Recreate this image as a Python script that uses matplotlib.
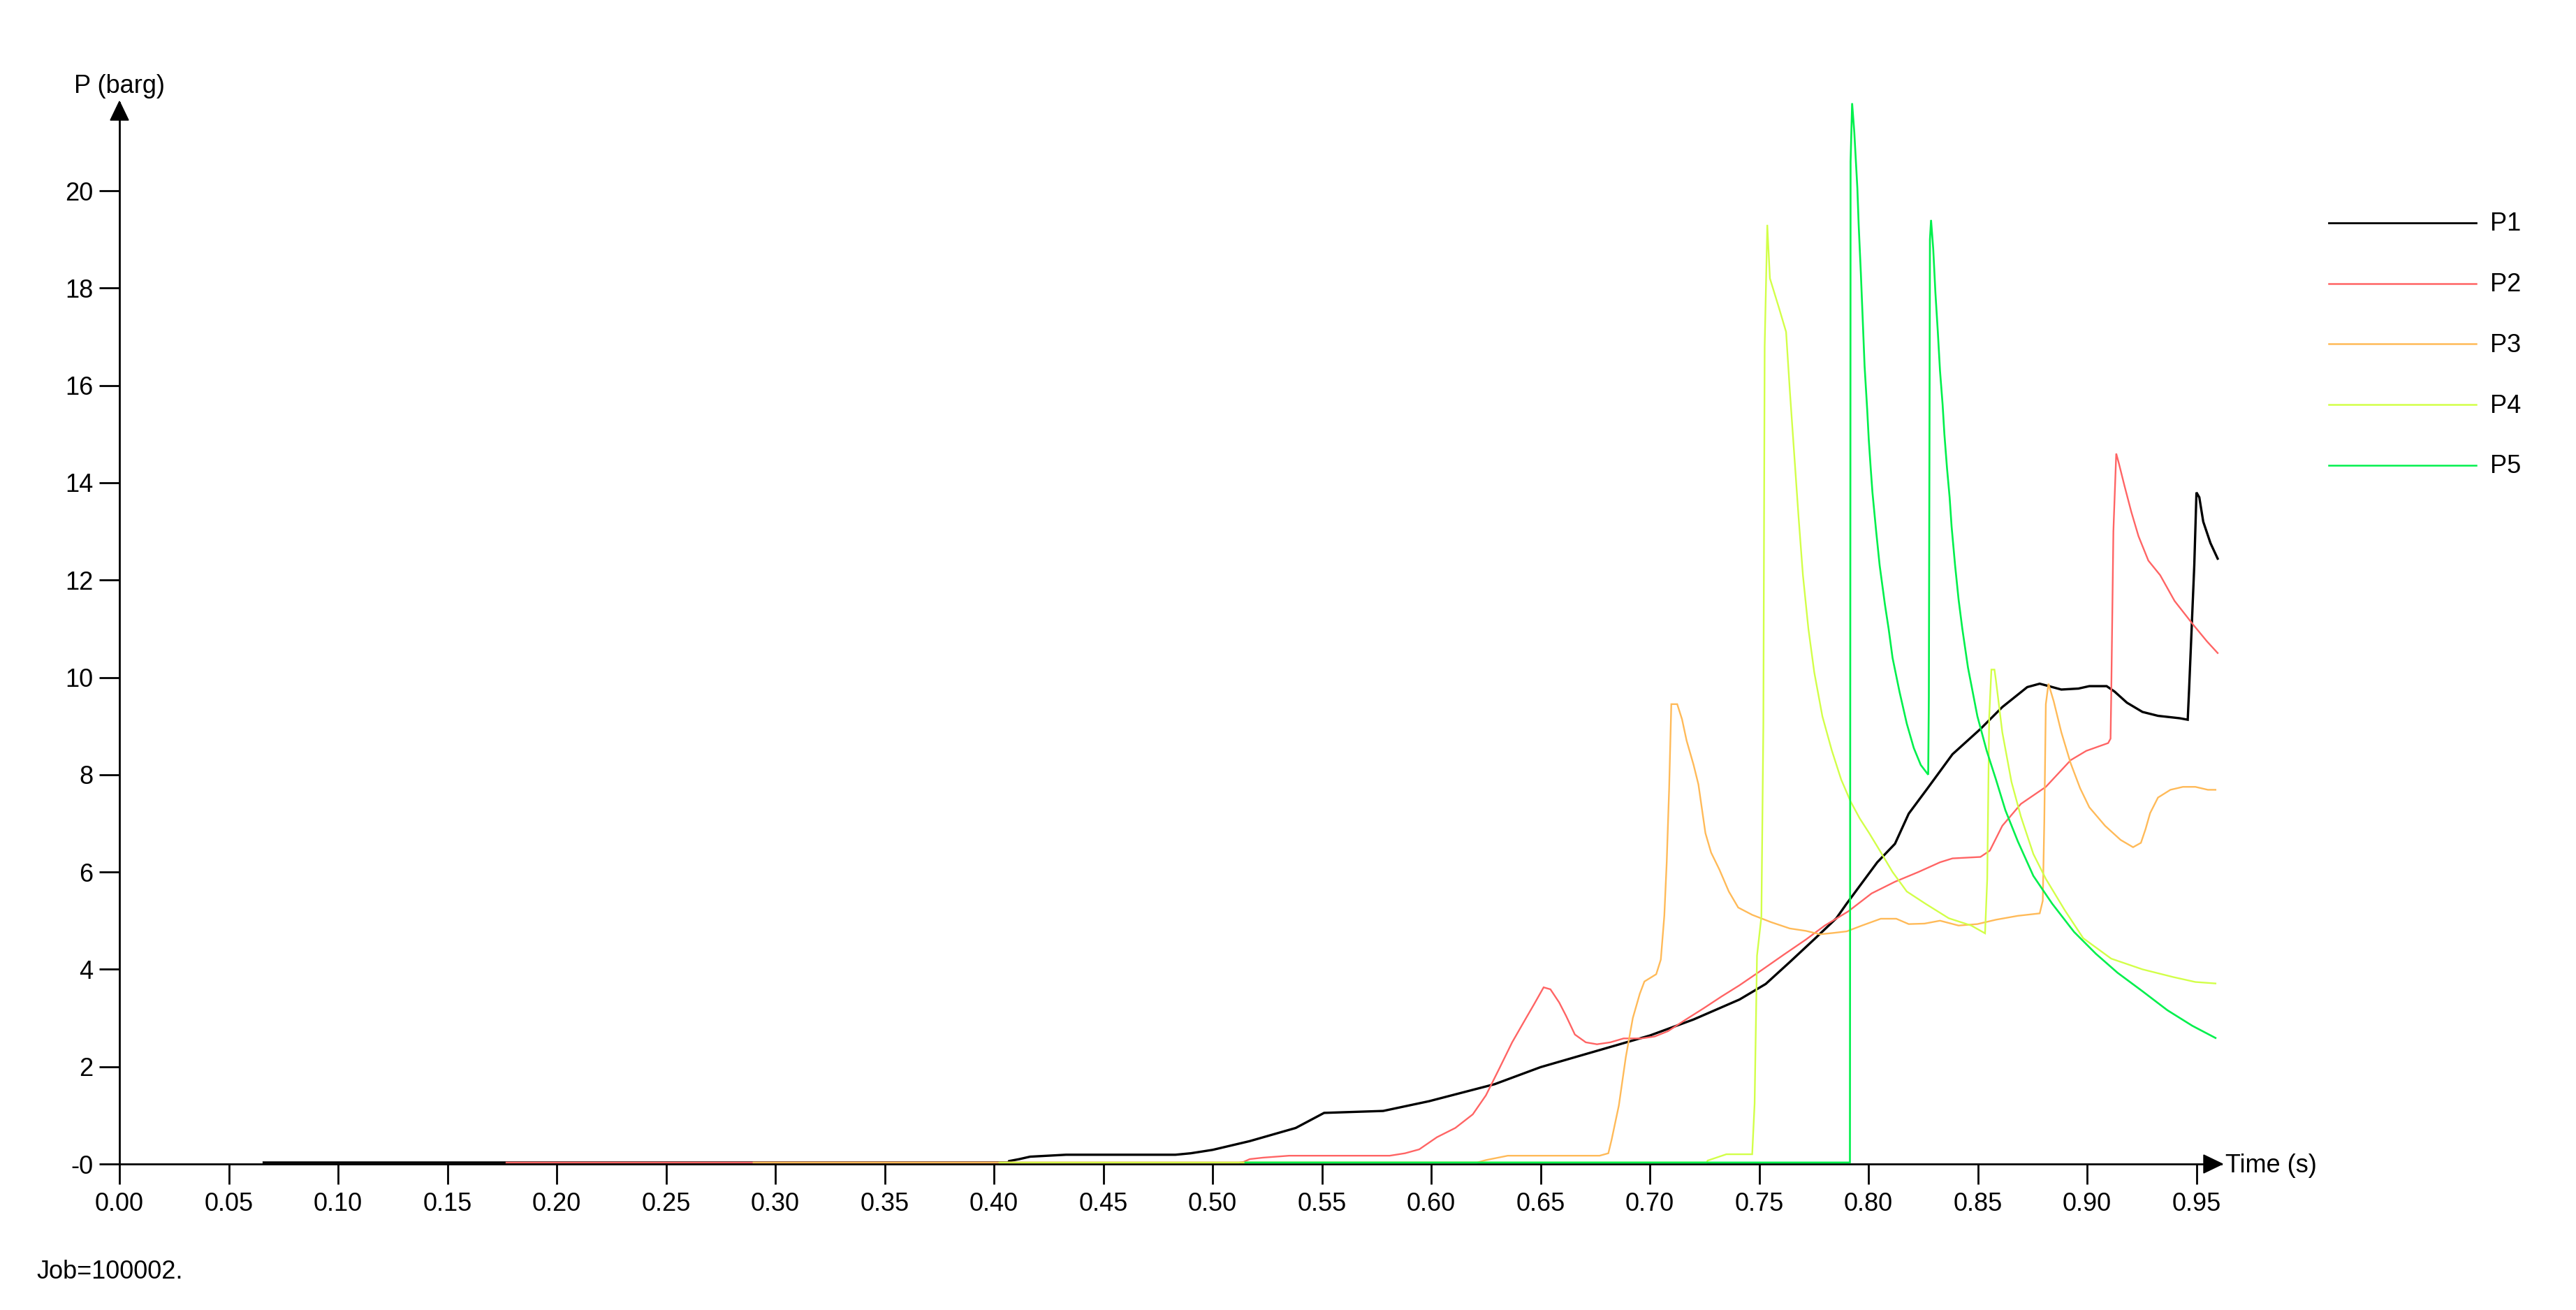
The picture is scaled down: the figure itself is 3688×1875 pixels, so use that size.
import matplotlib
matplotlib.use("Agg")
import matplotlib.pyplot as plt
from matplotlib.patches import Polygon
from matplotlib.lines import Line2D

plt.rcParams['font.family'] = ['Liberation Sans', 'DejaVu Sans']

# ---------------- data (time in s, pressure in barg) ----------------
p1_t = [0.066, 0.4065, 0.4069, 0.4116, 0.4165, 0.433, 0.483, 0.49, 0.50, 0.517, 0.538, 0.551,
        0.578, 0.599, 0.629, 0.65, 0.68, 0.70, 0.72, 0.741, 0.753, 0.764, 0.7757, 0.7853,
        0.790, 0.804, 0.8121, 0.8184, 0.827, 0.8384, 0.8512, 0.8612, 0.8726, 0.8783, 0.8825,
        0.8882, 0.896, 0.901, 0.9089, 0.9125, 0.9182, 0.9253, 0.9324, 0.9424, 0.946, 0.9466,
        0.949, 0.950, 0.9513, 0.9531, 0.9564, 0.9597]
p1_p = [0.03, 0.03, 0.06, 0.10, 0.15, 0.19, 0.19, 0.22, 0.29, 0.47, 0.74, 1.05,
        1.09, 1.29, 1.64, 1.99, 2.38, 2.64, 2.97, 3.38, 3.70, 4.15, 4.64, 5.05,
        5.35, 6.20, 6.58, 7.20, 7.72, 8.42, 8.94, 9.39, 9.80, 9.87, 9.82,
        9.75, 9.77, 9.82, 9.82, 9.71, 9.48, 9.29, 9.21, 9.16, 9.13, 9.72,
        12.3, 13.8, 13.7, 13.2, 12.76, 12.44]

p2_t = [0.177, 0.512, 0.514, 0.517, 0.523, 0.535, 0.581, 0.588, 0.5945, 0.6026, 0.611, 0.619,
        0.625, 0.631, 0.637, 0.643, 0.647, 0.6514, 0.6545, 0.6585, 0.6616, 0.6657, 0.6707,
        0.6758, 0.6819, 0.688, 0.6961, 0.7022, 0.7083, 0.7165, 0.7246, 0.7327, 0.7409, 0.751,
        0.7612, 0.7713, 0.78, 0.7907, 0.8014, 0.8121, 0.8228, 0.8327, 0.8384, 0.8512, 0.8555,
        0.8612, 0.8697, 0.8811, 0.8925, 0.8996, 0.9096, 0.9107, 0.911, 0.912, 0.9133, 0.9145,
        0.917, 0.9202, 0.9235, 0.928, 0.9334, 0.940, 0.9482, 0.9548, 0.9597]
p2_p = [0.03, 0.03, 0.04, 0.10, 0.13, 0.17, 0.17, 0.22, 0.30, 0.55, 0.74, 1.02,
        1.41, 1.95, 2.50, 2.97, 3.28, 3.63, 3.59, 3.32, 3.05, 2.66, 2.50,
        2.46, 2.50, 2.58, 2.58, 2.62, 2.73, 2.97, 3.20, 3.44, 3.67, 3.98,
        4.30, 4.61, 4.90, 5.19, 5.56, 5.80, 6.00, 6.20, 6.28, 6.31, 6.44,
        6.95, 7.40, 7.75, 8.30, 8.49, 8.65, 8.74, 9.58, 13.0, 14.6, 14.4,
        13.95, 13.4, 12.9, 12.4, 12.1, 11.57, 11.1, 10.74, 10.5]

p3_t = [0.29, 0.621, 0.625, 0.635, 0.677, 0.681, 0.6825, 0.6858, 0.689, 0.6922, 0.6954, 0.6975,
        0.7029, 0.705, 0.7066, 0.7077, 0.7088, 0.7098, 0.7125, 0.7147, 0.7168, 0.72, 0.7222,
        0.7254, 0.728, 0.7318, 0.7361, 0.7404, 0.7468, 0.7554, 0.764, 0.7714, 0.7778, 0.7843,
        0.79, 0.797, 0.8056, 0.8127, 0.8184, 0.8256, 0.8327, 0.8412, 0.8498, 0.8583, 0.8683,
        0.8783, 0.8797, 0.8804, 0.8811, 0.8823, 0.8847, 0.8882, 0.8925, 0.8968, 0.901, 0.9082,
        0.9153, 0.921, 0.9246, 0.9267, 0.9288, 0.9324, 0.9381, 0.9438, 0.9495, 0.9552, 0.9587]
p3_p = [0.03, 0.03, 0.08, 0.17, 0.17, 0.22, 0.50, 1.20, 2.20, 3.00, 3.50, 3.75,
        3.90, 4.20, 5.10, 6.20, 7.70, 9.45, 9.45, 9.14, 8.70, 8.20, 7.80,
        6.80, 6.40, 6.05, 5.60, 5.27, 5.12, 4.97, 4.84, 4.79, 4.72, 4.75,
        4.78, 4.90, 5.04, 5.04, 4.93, 4.94, 5.00, 4.90, 4.93, 5.02, 5.10,
        5.15, 5.41, 7.04, 9.45, 9.87, 9.51, 8.87, 8.23, 7.72, 7.33, 6.95,
        6.66, 6.51, 6.60, 6.88, 7.21, 7.53, 7.69, 7.75, 7.75, 7.69, 7.69]

p4_t = [0.4025, 0.726, 0.7264, 0.735, 0.7468, 0.7479, 0.749, 0.751, 0.7519, 0.7525, 0.7537,
        0.7549, 0.759, 0.7623, 0.764, 0.766, 0.768, 0.770, 0.7725, 0.7752, 0.7789, 0.7832,
        0.7875, 0.7918, 0.796, 0.8003, 0.8057, 0.811, 0.8175, 0.826, 0.8367, 0.847, 0.8533,
        0.8543, 0.8552, 0.8562, 0.8576, 0.8583, 0.8612, 0.8654, 0.8697, 0.8754, 0.8811,
        0.8897, 0.8982, 0.911, 0.9253, 0.9395, 0.9495, 0.9587]
p4_p = [0.03, 0.03, 0.07, 0.20, 0.20, 1.24, 4.28, 5.08, 9.03, 16.8, 19.3,
        18.2, 17.6, 17.1, 15.9, 14.6, 13.3, 12.1, 11.0, 10.1, 9.2, 8.5,
        7.9, 7.45, 7.10, 6.80, 6.40, 6.00, 5.60, 5.35, 5.05, 4.90, 4.74,
        5.86, 9.19, 10.16, 10.16, 9.93, 8.87, 7.85, 7.14, 6.37, 5.86,
        5.22, 4.64, 4.22, 4.00, 3.84, 3.74, 3.71]

p5_t = [0.515, 0.7915, 0.7918, 0.7925, 0.7935, 0.7949, 0.7955, 0.7965, 0.7974, 0.7982, 0.7994,
        0.8001, 0.801, 0.8018, 0.8035, 0.8051, 0.8075, 0.8092, 0.811, 0.8142, 0.8175, 0.8207,
        0.8239, 0.8273, 0.8276, 0.8281, 0.8286, 0.8296, 0.8306, 0.8317, 0.8327, 0.8339, 0.8347,
        0.8359, 0.8371, 0.838, 0.8396, 0.8412, 0.8429, 0.8455, 0.8498, 0.854, 0.8583, 0.8626,
        0.8683, 0.8754, 0.884, 0.894, 0.904, 0.9139, 0.9253, 0.9367, 0.9481, 0.9587]
p5_p = [0.03, 0.03, 20.6, 21.8, 21.2, 20.05, 19.3, 18.3, 17.3, 16.4, 15.5,
        14.9, 14.3, 13.8, 13.0, 12.3, 11.5, 11.0, 10.4, 9.7, 9.05, 8.55,
        8.2, 8.0, 9.6, 19.0, 19.4, 18.8, 17.9, 17.1, 16.3, 15.6, 15.0,
        14.3, 13.7, 13.1, 12.3, 11.6, 11.0, 10.2, 9.2, 8.5, 7.9, 7.27,
        6.63, 5.92, 5.35, 4.77, 4.32, 3.93, 3.55, 3.16, 2.84, 2.59]

series_names = ["P1", "P2", "P3", "P4", "P5"]
series_colors = ["#000000", "#ff6464", "#ffba58", "#d2ff48", "#00f04c"]
x_ticks = [0.00, 0.05, 0.10, 0.15, 0.20, 0.25, 0.30, 0.35, 0.40, 0.45, 0.50,
           0.55, 0.60, 0.65, 0.70, 0.75, 0.80, 0.85, 0.90, 0.95]
y_ticks = [0, 2, 4, 6, 8, 10, 12, 14, 16, 18, 20]
y_tick_labels = ["-0", "2", "4", "6", "8", "10", "12", "14", "16", "18", "20"]
x_label = "Time (s)"
y_label = "P (barg)"
footer = "Job=100002."

# ---------------- figure ----------------
W, H = 3688, 1875
fig = plt.figure(figsize=(W / 100, H / 100), dpi=100)
fig.patch.set_facecolor("white")

ax_left, ax_right, ax_bottom, ax_top = 171, 3180, 1666, 147   # pixels
ax = fig.add_axes([ax_left / W, 1 - ax_bottom / H, (ax_right - ax_left) / W,
                   (ax_bottom - ax_top) / H])
ax.set_xlim(0, 0.9613)
ax.set_ylim(0, 21.81)

all_t = [p1_t, p2_t, p3_t, p4_t, p5_t]
all_p = [p1_p, p2_p, p3_p, p4_p, p5_p]
widths = [2.4, 1.7, 1.7, 1.7, 1.9]
for t, p, c, lw, i in zip(all_t, all_p, series_colors, widths, range(5)):
    ax.plot(t, p, color=c, lw=lw, clip_on=False, zorder=3 + i,
            solid_joinstyle="miter")

for s in ["top", "right"]:
    ax.spines[s].set_visible(False)
for s in ["left", "bottom"]:
    ax.spines[s].set_linewidth(2.0)
    ax.spines[s].set_zorder(2)

ax.set_xticks(x_ticks)
ax.set_xticklabels([f"{v:.2f}" for v in x_ticks])
ax.set_yticks(y_ticks)
ax.set_yticklabels(y_tick_labels)
ax.tick_params(axis="both", direction="out", length=21, width=2.0, labelsize=26,
               color="black", labelcolor="black")
ax.tick_params(axis="x", pad=8)
ax.tick_params(axis="y", pad=6)

# axis arrows (pixel geometry)
def px(x, y):
    return (x / W, 1 - y / H)

ya = Polygon([px(171, 145), px(158, 172), px(184, 172)], closed=True,
             transform=fig.transFigure, color="black", zorder=10)
xa = Polygon([px(3182, 1666), px(3155, 1653), px(3155, 1679)], closed=True,
             transform=fig.transFigure, color="black", zorder=10)
fig.patches.extend([ya, xa])

fig.text(*px(171, 133), y_label, ha="center", va="baseline", fontsize=26)
fig.text(*px(3186, 1668), x_label, ha="left", va="center", fontsize=26)
fig.text(*px(52, 1820), footer, ha="left", va="center", fontsize=26)

# legend drawn manually
for i, (name, c) in enumerate(zip(series_names, series_colors)):
    y = 319 + i * 86.7
    fig.lines.append(Line2D([3334 / W, 3545 / W], [1 - y / H, 1 - y / H],
                            transform=fig.transFigure, color=c,
                            lw=2.0 if i == 0 else 1.8))
    fig.text(*px(3565, y + 2), name, ha="left", va="center", fontsize=26)

fig.savefig("out.png", dpi=100, facecolor="white")
